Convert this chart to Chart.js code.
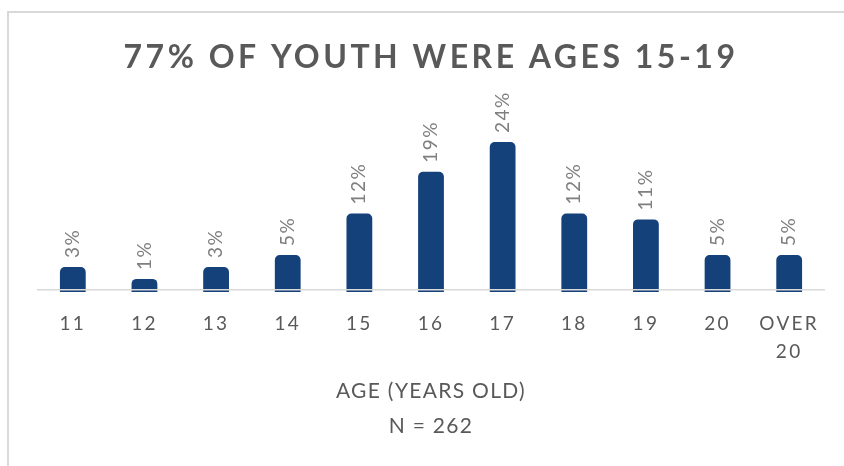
<!DOCTYPE html>
<html>
<head>
<meta charset="utf-8">
<script src="https://cdn.jsdelivr.net/npm/chart.js@4.4.1/dist/chart.umd.min.js"></script>
<style>
  html, body { margin: 0; padding: 0; background: #ffffff; }
  #wrap { position: relative; width: 844px; height: 466px; }
</style>
</head>
<body>
<div id="wrap"><canvas id="c" width="844" height="466"></canvas></div>
<script>
// ---- data ----
const chartTitle = '77% OF YOUTH WERE AGES 15-19';
const ageCategories = ['11', '12', '13', '14', '15', '16', '17', '18', '19', '20', ['OVER', '20']];
const youthPercent = [3, 1, 3, 5, 12, 19, 24, 12, 11, 5, 5];
const axisTitleLines = ['AGE (YEARS OLD)', 'N = 262'];

const TEXT = '#595959';
const LABEL = '#7f7f7f';
const BAR = '#15417A';
const Y_MIN = -1.2;
const BASELINE = -0.86;

const framePlugin = {
  id: 'frame',
  beforeDraw(chart) {
    const ctx = chart.ctx;
    ctx.save();
    ctx.fillStyle = '#d9d9d9';
    ctx.fillRect(7, 11, 2, chart.height - 11);
    ctx.fillRect(7, 11, chart.width - 7, 2);
    ctx.restore();
    ctx.letterSpacing = '0px';
  }
};

const valueLabelPlugin = {
  id: 'valueLabels',
  afterDatasetsDraw(chart) {
    const ctx = chart.ctx;
    const meta = chart.getDatasetMeta(0);
    ctx.save();
    ctx.letterSpacing = '1.5px';
    ctx.font = '19px Lato';
    ctx.fillStyle = LABEL;
    ctx.textAlign = 'left';
    ctx.textBaseline = 'middle';
    meta.data.forEach((bar, i) => {
      ctx.save();
      ctx.translate(bar.x, bar.y - 9);
      ctx.rotate(-Math.PI / 2);
      ctx.fillText(youthPercent[i] + '%', 0, 0);
      ctx.restore();
    });
    ctx.restore();
  }
};

const chart = new Chart(document.getElementById('c'), {
  type: 'bar',
  data: {
    labels: ageCategories,
    datasets: [{
      data: youthPercent,
      backgroundColor: BAR,
      borderRadius: 5,
      base: Y_MIN,
      barPercentage: 0.36,
      categoryPercentage: 1.0
    }]
  },
  plugins: [framePlugin, valueLabelPlugin],
  options: {
    responsive: false,
    animation: false,
    events: [],
    layout: { padding: { left: 37, right: 19, top: 0, bottom: 22 } },
    plugins: {
      legend: { display: false },
      tooltip: { enabled: false },
      title: {
        display: true,
        text: chartTitle,
        color: TEXT,
        font: { family: 'Lato', weight: 'bold', size: 32, lineHeight: 1.2 },
        padding: { top: 38.5, bottom: 33 }
      }
    },
    scales: {
      x: {
        grid: { display: false, drawTicks: false },
        border: { display: false },
        ticks: {
          color: TEXT,
          font: { family: 'Lato', size: 19, lineHeight: 28 / 19 },
          padding: 18,
          maxRotation: 0,
          autoSkip: false
        },
        title: {
          display: true,
          text: axisTitleLines,
          color: TEXT,
          font: { family: 'Lato', size: 21, lineHeight: 35 / 21 },
          padding: { top: -10, bottom: 0 }
        }
      },
      y: {
        min: Y_MIN,
        max: 29.4,
        afterBuildTicks(scale) { scale.ticks = [{ value: BASELINE }]; },
        grid: { color: '#d9d9d9', lineWidth: 1.5, drawTicks: false, z: 1 },
        border: { display: false },
        ticks: { display: false }
      }
    }
  }
});

// letter spacing for title, tick labels and axis title
function withSpacing(obj, method, spacing) {
  const orig = obj[method];
  obj[method] = function () {
    const ctx = this.ctx;
    ctx.save();
    ctx.letterSpacing = spacing;
    orig.apply(this, arguments);
    ctx.restore();
  };
}
withSpacing(chart.titleBlock, 'draw', '3.5px');
withSpacing(chart.scales.x, 'drawLabels', '2.3px');
withSpacing(chart.scales.x, 'drawTitle', '1.3px');
chart.draw();
</script>
</body>
</html>
